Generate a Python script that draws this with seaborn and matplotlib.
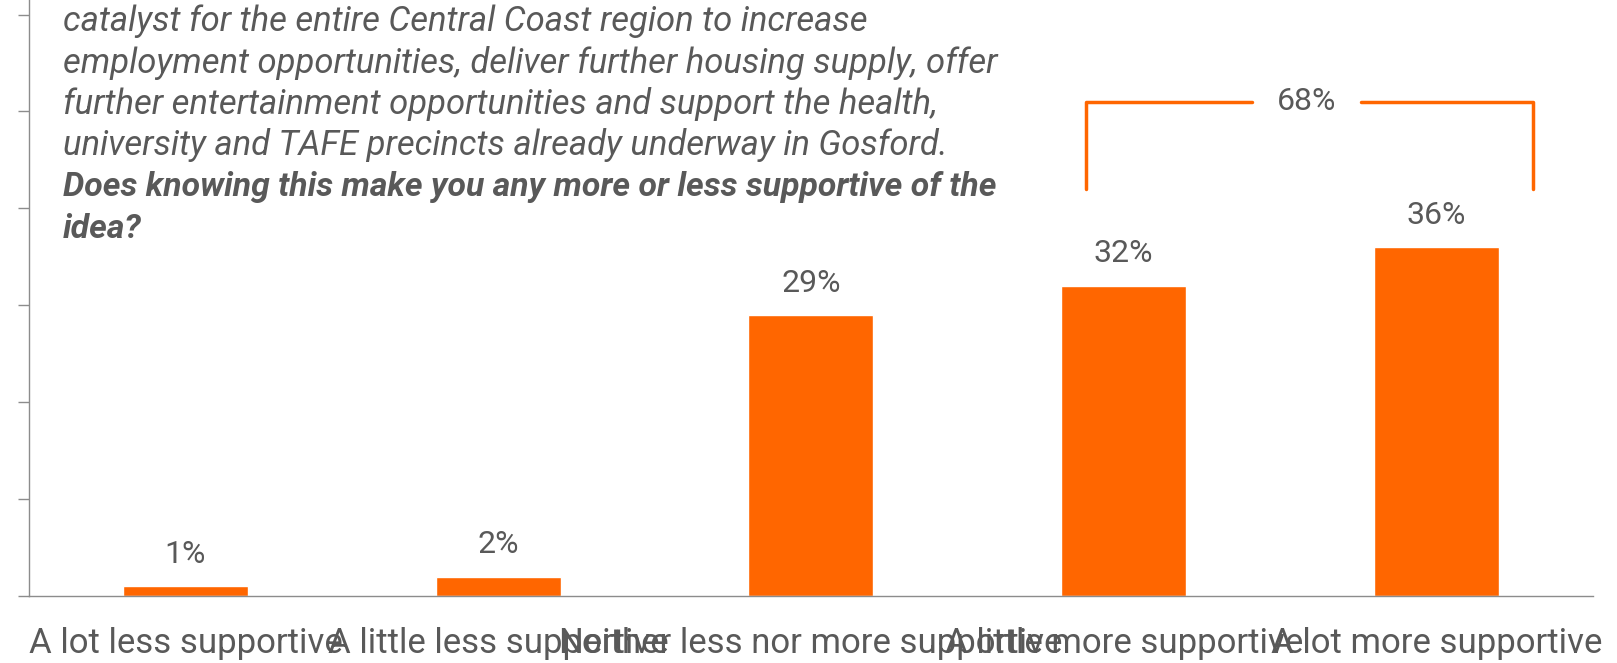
import matplotlib
matplotlib.use('Agg')
import matplotlib.pyplot as plt
import seaborn as sns
import pandas as pd

# Chart data
categories = ['A lot less supportive', 'A little less supportive',
              'Neither less nor more supportive', 'A little more supportive',
              'A lot more supportive']
values = [1, 2, 29, 32, 36]
net_label = '68%'
question_lines = [
    'catalyst for the entire Central Coast region to increase',
    'employment opportunities, deliver further housing supply, offer',
    'further entertainment opportunities and support the health,',
    'university and TAFE precincts already underway in Gosford.',
]
question_bold = [
    'Does knowing this make you any more or less supportive of the',
    'idea?',
]

ORANGE = '#FF6600'
GREY = '#595959'
AXIS = '#8C8C8C'

sns.set_style('white')
plt.rcParams['font.family'] = ['Roboto', 'DejaVu Sans']

df = pd.DataFrame({'cat': categories, 'val': values})

fig = plt.figure(figsize=(16.17, 6.63), dpi=100)
ax = fig.add_axes([0.018, 0.101, 0.967, 0.899])
sns.barplot(data=df, x='cat', y='val', color=ORANGE, saturation=1, width=0.4, ax=ax)

ax.set_xlim(-0.5, 4.5)
ax.set_ylim(0, 61.5)
ax.set_yticks(range(0, 61, 10))
ax.set_yticklabels([])
ax.set_xticks([i + 0.5 for i in range(-1, 5)], minor=False)
ax.set_xticklabels([])
ax.set_xticks(range(5), minor=True)
ax.set_xticklabels(categories, minor=True, fontsize=25, color=GREY)
ax.tick_params(axis='x', which='minor', length=0, pad=22)
ax.tick_params(axis='x', which='major', length=10, width=1, color=AXIS, direction='out')
ax.tick_params(axis='y', length=8, width=1, color=AXIS, direction='out', left=True)
ax.set_xlabel('')
ax.set_ylabel('')
for s in ['top', 'right']:
    ax.spines[s].set_visible(False)
for s in ['left', 'bottom']:
    ax.spines[s].set_color(AXIS)
    ax.spines[s].set_linewidth(1)

# value labels
for i, v in enumerate(values):
    ax.text(i, v + 1.8, f'{v}%', ha='center', va='bottom', fontsize=23, color=GREY)

# net bracket over the two "more supportive" bars
xl, xr, yb, yt = 2.88, 4.31, 42, 51
ax.plot([xl, xl, 3.41], [yb, yt, yt], color=ORANGE, lw=2.5, solid_capstyle='round')
ax.plot([3.76, xr, xr], [yt, yt, yb], color=ORANGE, lw=2.5, solid_capstyle='round')
ax.text(3.585, yt, net_label, ha='center', va='center', fontsize=23, color=GREY)

# question text
y0 = 1 - 21 / 663
dy = 41.5 / 663
for k, line in enumerate(question_lines):
    fig.text(63 / 1617, y0 - k * dy, line, ha='left', va='center', fontsize=24.9,
             style='italic', color=GREY)
for k, line in enumerate(question_bold):
    fig.text(63 / 1617, y0 - (k + len(question_lines)) * dy, line, ha='left',
             va='center', fontsize=24.3, style='italic', weight='bold', color=GREY)

fig.savefig('out.png', dpi=100)
